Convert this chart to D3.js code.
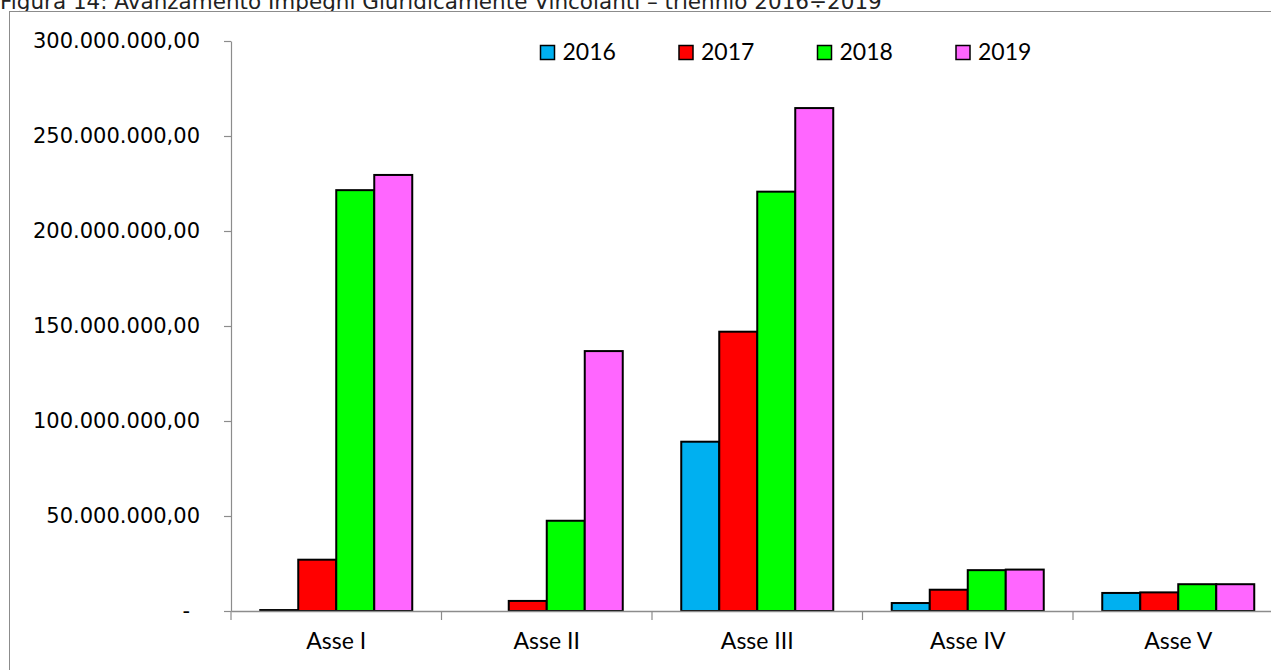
<!DOCTYPE html>
<html>
<head>
<meta charset="utf-8">
<script src="https://cdn.jsdelivr.net/npm/d3@7"></script>
<style>
  html, body { margin: 0; padding: 0; background: #fff; }
  svg { display: block; }
</style>
</head>
<body>
<svg id="chart" width="1271" height="670"></svg>
<script>
// ---- data ----
const categories = ["Asse I", "Asse II", "Asse III", "Asse IV", "Asse V"];
const seriesNames = ["2016", "2017", "2018", "2019"];
const values2016 = [500000, 0, 89100000, 4200000, 9500000];
const values2017 = [27000000, 5300000, 147000000, 11200000, 9800000];
const values2018 = [221500000, 47500000, 220700000, 21500000, 14100000];
const values2019 = [229500000, 136800000, 264700000, 21800000, 14100000];
const seriesColors = ["#00B0F0", "#FF0000", "#00FF00", "#FF66FF"];
const tickValues = [0, 50000000, 100000000, 150000000, 200000000, 250000000, 300000000];
const tickLabels = ["-", "50.000.000,00", "100.000.000,00", "150.000.000,00", "200.000.000,00", "250.000.000,00", "300.000.000,00"];
const titleText = "Figura 14: Avanzamento Impegni Giuridicamente Vincolanti – triennio 2016÷2019";

const seriesValues = [values2016, values2017, values2018, values2019];

const svg = d3.select("#chart");

// title (partially cut at top, as in reference)
svg.append("text")
  .attr("x", 0).attr("y", 9)
  .attr("font-family", "DejaVu Sans, sans-serif")
  .attr("font-size", 21.5)
  .attr("fill", "#222")
  .text(titleText);

// outer frame
svg.append("rect")
  .attr("x", 9.5).attr("y", 11.5)
  .attr("width", 1300).attr("height", 700)
  .attr("fill", "#fff")
  .attr("stroke", "#8c8c8c").attr("stroke-width", 1);

// scales
const x = d3.scaleBand().domain(categories).range([231, 231 + 5 * 210.5]).paddingInner(0).paddingOuter(0);
const xInner = d3.scaleBand().domain(seriesNames).range([29.25, 210.5 - 29.25]).padding(0);
const y = d3.scaleLinear().domain([0, 300000000]).range([611, 41]);

// y axis
const yAxis = d3.axisLeft(y).tickValues(tickValues)
  .tickFormat((d, i) => tickLabels[i]).tickSizeInner(7).tickSizeOuter(0).tickPadding(24);
const gy = svg.append("g").attr("transform", "translate(231,0)").call(yAxis);
gy.select(".domain").attr("stroke", "#8c8c8c").attr("stroke-width", 1.2);
gy.selectAll(".tick line").attr("stroke", "#8c8c8c").attr("stroke-width", 1.2);
gy.selectAll(".tick text")
  .attr("font-family", "DejaVu Sans, sans-serif")
  .attr("font-size", 21)
  .attr("fill", "#000");
gy.selectAll(".tick text").filter((d) => d === 0).attr("dx", -10);

// bars
const groups = svg.append("g").selectAll("g")
  .data(categories)
  .join("g")
  .attr("transform", d => `translate(${x(d)},0)`);

groups.selectAll("rect")
  .data((c, ci) => seriesNames.map((s, si) => ({ s, si, v: seriesValues[si][ci] })))
  .join("rect")
  .filter(d => d.v > 0)
  .attr("x", d => xInner(d.s))
  .attr("y", d => y(d.v))
  .attr("width", xInner.bandwidth())
  .attr("height", d => Math.max(0, y(0) - y(d.v)))
  .attr("fill", d => seriesColors[d.si])
  .attr("stroke", "#000")
  .attr("stroke-width", 2);

// x axis
const xAxis = d3.axisBottom(x).tickSize(0).tickPadding(22);
const gx = svg.append("g").attr("transform", "translate(0,611)").call(xAxis);
gx.select(".domain").attr("stroke", "#8c8c8c").attr("stroke-width", 1.5);
gx.selectAll(".tick text")
  .attr("font-family", "Lato, 'Open Sans', sans-serif")
  .attr("font-size", 23)
  .attr("fill", "#000");
// category boundary ticks
gx.append("g").selectAll("line")
  .data(d3.range(categories.length + 1))
  .join("line")
  .attr("x1", i => 231 + i * x.bandwidth())
  .attr("x2", i => 231 + i * x.bandwidth())
  .attr("y1", 0).attr("y2", 9)
  .attr("stroke", "#8c8c8c").attr("stroke-width", 1.2);

// legend
const legend = svg.append("g").selectAll("g")
  .data(seriesNames)
  .join("g")
  .attr("transform", (d, i) => `translate(${540.5 + i * 138.5},45.5)`);
legend.append("rect")
  .attr("width", 14).attr("height", 14)
  .attr("fill", (d, i) => seriesColors[i])
  .attr("stroke", "#000").attr("stroke-width", 1.5);
legend.append("text")
  .attr("x", 22).attr("y", 14.5)
  .attr("font-family", "Lato, 'Open Sans', sans-serif")
  .attr("font-size", 23)
  .attr("fill", "#000")
  .text(d => d);
</script>
</body>
</html>
